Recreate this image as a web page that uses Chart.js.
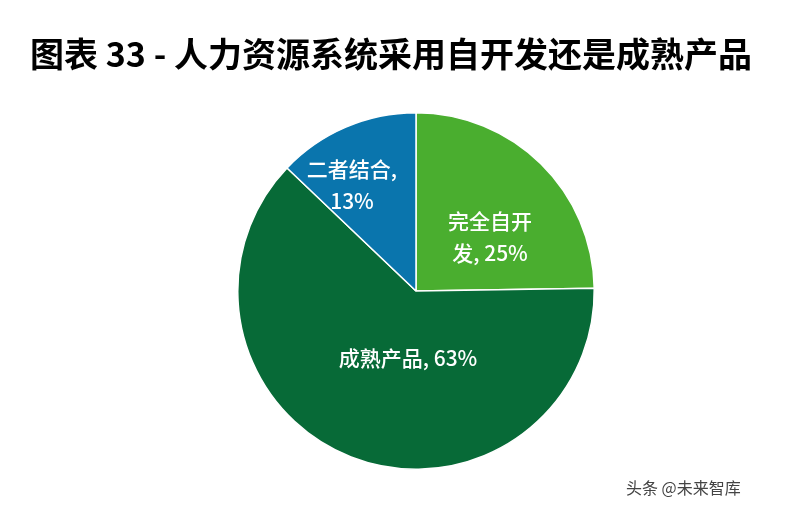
<!DOCTYPE html>
<html lang="zh">
<head>
<meta charset="UTF-8">
<title>图表 33</title>
<script src="https://cdn.jsdelivr.net/npm/chart.js"></script>
<style>
    html, body { margin: 0; padding: 0; background: #fff; }
    #wrap { width: 791px; height: 512px; position: relative; }
</style>
</head>
<body>
<div id="wrap"><canvas id="pie"></canvas></div>
<script>
    const categories = ['完全自开发', '成熟产品', '二者结合'];
    const shares = [25, 63, 13];
    const colors = ['#4aae2f', '#076a37', '#0a75ad'];

    // label anchor points relative to pie centre (px), and line breaks
    const labelSpots = [
        { dx: 74, dy: -54, lines: ['完全自开', '发, 25%'] },
        { dx: -8, dy: 67, lines: ['成熟产品, 63%'] },
        { dx: -64, dy: -106, lines: ['二者结合,', '13%'] }
    ];

    const FONT = '"Noto Sans CJK SC", "Noto Sans", sans-serif';

    const decor = {
        id: 'decor',
        afterDraw(chart) {
            const c = chart.ctx;
            const arc0 = chart.getDatasetMeta(0).data[0];
            c.save();
            c.fillStyle = '#000';
            c.font = 'bold 34px ' + FONT;
            c.textAlign = 'center';
            c.textBaseline = 'middle';
            c.fillText('图表 33 - 人力资源系统采用自开发还是成熟产品', 391, 54);

            c.fillStyle = '#fff';
            c.font = '500 21px ' + FONT;
            labelSpots.forEach(s => {
                const n = s.lines.length;
                s.lines.forEach((t, i) => {
                    c.fillText(t, arc0.x + s.dx, arc0.y + s.dy + (i - (n - 1) / 2) * 32);
                });
            });

            c.fillStyle = '#444';
            c.font = '16px ' + FONT;
            c.textAlign = 'left';
            c.fillText('头条 @未来智库', 626, 488);
            c.restore();
        }
    };

    new Chart(document.getElementById('pie'), {
        type: 'pie',
        data: {
            labels: categories,
            datasets: [{
                data: shares,
                backgroundColor: colors,
                borderColor: '#fff',
                borderWidth: 1.5
            }]
        },
        options: {
            responsive: true,
            maintainAspectRatio: false,
            animation: false,
            layout: { padding: { top: 112, bottom: 42, left: 237, right: 196 } },
            plugins: {
                legend: { display: false },
                tooltip: { enabled: false },
                title: { display: false }
            }
        },
        plugins: [decor]
    });
</script>
</body>
</html>
